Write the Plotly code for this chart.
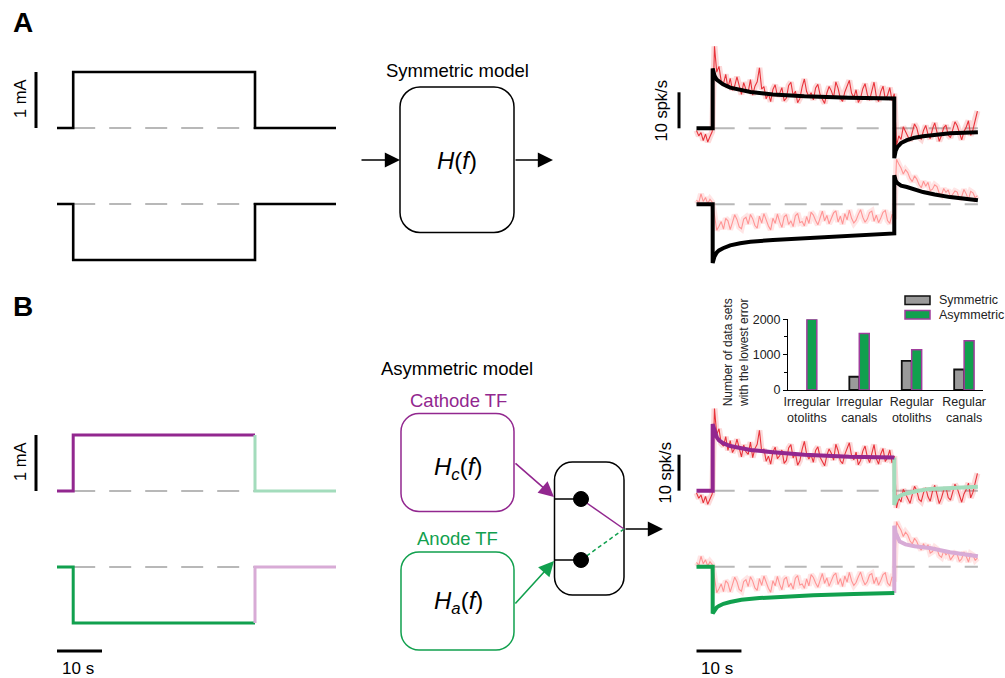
import numpy as np
import plotly.graph_objects as go

W, H = 1005, 678
FONT = "Liberation Sans, Arial, Helvetica, sans-serif"

# ------------------------------------------------------------------ data
# stimulus (time in s, current in mA)
STIM_T = [0, 3.6, 3.6, 44.0, 44.0, 62.0]
STIM_CATH = [0, 0, 1, 1, 0, 0]
STIM_ANOD = [0, 0, -1, -1, 0, 0]

# recorded firing rate (spk/s, relative to baseline), sampled every 0.5 s
DT = 0.5
RATE_CATH = [
    -0.6, -2.1, -1.2, -3.4, -1.6, -3.8, -2.3, -0.9,
    22.8, 15.6, 17.2, 13.1, 12.4, 15.0, 11.2, 13.9, 10.6, 11.8,
    14.3, 12.0, 9.4, 12.7, 10.8, 10.1, 13.5, 9.2, 11.7, 12.9,
    16.8, 10.9, 11.6, 8.2, 9.6, 7.4, 10.8, 12.1, 8.9, 9.7,
    11.3, 7.6, 8.4, 11.9, 12.8, 9.1, 10.3, 7.1, 8.3, 11.5,
    13.7, 10.2, 8.8, 9.9, 7.9, 11.2, 12.2, 9.3, 8.0, 6.9,
    9.8, 11.6, 10.4, 8.5, 12.9, 11.1, 8.3, 7.5, 10.1, 11.6,
    13.3, 9.7, 8.6, 10.7, 7.2, 8.4, 11.0, 12.4, 9.4, 7.8,
    10.5, 12.8, 8.9, 7.4, 10.2, 11.7, 8.1, 9.2, 11.3, 7.7,
    9.6,
    -4.8, -2.1, -3.1, 0.4, -0.8, -2.2, -3.5, -1.1, 1.2, 0.1,
    -2.4, -3.0, -0.6, 0.8, -1.7, -2.9, -0.2, 1.5, -1.3, -3.6,
    -2.0, 0.2, 0.9, -1.9, -2.6, -0.5, 1.8, 0.7, -1.4, -3.2,
    -0.9, 0.3, 2.1, -2.0, -0.4, 2.6, 4.8,
]
RATE_ANOD = [
    1.2, 0.4, 2.9, 0.8, 1.9, 0.2, 1.4, 0.6,
    -3.0, -7.2, -6.1, -4.8, -6.9, -3.9, -4.6, -7.0, -5.0, -2.9,
    -4.2, -6.3, -6.8, -4.1, -3.6, -5.5, -2.8, -4.0, -5.9, -6.6,
    -3.3, -5.2, -2.6, -4.4, -6.0, -7.1, -3.9, -5.3, -2.7, -4.9,
    -6.4, -3.5, -2.9, -5.6, -4.6, -6.2, -3.2, -2.5, -5.1, -4.8,
    -6.0, -3.4, -5.3, -2.2, -3.0, -4.5, -5.7, -3.8, -1.9, -4.6,
    -3.1, -5.4, -4.0, -2.4, -1.8, -4.9, -3.3, -5.5, -2.6, -4.3,
    -1.6, -3.9, -5.2, -4.4, -2.8, -1.5, -3.6, -5.0, -4.1, -2.3,
    -1.9, -4.7, -3.0, -5.1, -3.8, -2.2, -1.7, -4.5, -5.3, -2.9,
    -3.1,
    12.5, 11.2, 10.1, 8.4, 9.6, 8.8, 7.2, 6.3, 7.9, 7.0,
    5.5, 4.6, 6.4, 5.0, 6.1, 3.8, 4.2, 5.4, 4.9, 3.1,
    2.6, 4.4, 3.3, 4.0, 1.9, 2.8, 3.7, 3.4, 1.5, 2.2,
    4.1, 2.9, 1.3, 3.6, 3.2, 1.8, 2.4,
]

# symmetric model prediction (spk/s)
SYM_T = [0, 3.6, 3.6, 4.0, 4.5, 5.0, 5.9, 7.5, 9.7, 12, 17, 24, 34, 44,
         44, 44.3, 44.7, 45.5, 46.8, 48.5, 50.4, 53, 56.4, 62.6]
SYM_CATH = [0, 0, 16.6, 14.6, 13.5, 12.9, 12.2, 11.3, 10.6, 10.1, 9.4, 8.9, 8.5, 8.3,
            -8.3, -6.3, -5.2, -4.1, -3.3, -2.6, -2.2, -1.8, -1.4, -1.1]
SYM_ANOD = [0, 0, -16.3, -14.5, -13.4, -12.8, -12.2, -11.4, -10.8, -10.4, -9.9, -9.4, -8.8, -8.1,
            8.1, 6.6, 5.9, 5.2, 4.8, 4.0, 3.4, 2.7, 2.0, 1.1]

# asymmetric model prediction (spk/s)
ASYM_CATH_ON_T = [0, 3.6, 3.6, 4.0, 4.5, 5.0, 5.9, 7.5, 9.7, 12, 17, 24, 34, 44]
ASYM_CATH_ON = [0, 0, 18.5, 16.4, 14.9, 14.0, 13.2, 12.4, 11.8, 11.3, 10.7, 10.0, 9.4, 9.2]
ASYM_CATH_OFF_T = [44, 44, 44.3, 44.8, 45.8, 46.8, 49, 51.9, 56, 62.6]
ASYM_CATH_OFF = [9.2, -4.0, -2.6, -1.7, -1.1, -0.7, -0.1, 0.5, 0.8, 1.1]
ASYM_ANOD_ON_T = [0, 3.6, 3.6, 4.0, 4.5, 5.0, 6.0, 7.5, 10, 14, 19, 26, 35, 44]
ASYM_ANOD_ON = [0, 0, -13.0, -12.0, -11.3, -10.9, -10.3, -9.8, -9.2, -8.7, -8.3, -7.9, -7.6, -7.3]
ASYM_ANOD_OFF_T = [44, 44, 44.3, 44.7, 45.2, 46.5, 48.5, 51.9, 56.4, 62.6]
ASYM_ANOD_OFF = [-7.3, 11.4, 9.5, 8.3, 7.0, 6.2, 5.7, 5.2, 4.0, 2.9]

# inset bar chart
CATEGORIES = ["Irregular<br>otoliths", "Irregular<br>canals", "Regular<br>otoliths", "Regular<br>canals"]
N_SYMMETRIC = [0, 375, 825, 580]
N_ASYMMETRIC = [2000, 1600, 1140, 1390]
BAR_TICKS = [0, 1000, 2000]

# ------------------------------------------------------------------ style
PURPLE = "#92278f"
GREEN = "#11a04e"
LGREEN = "#a3dcbc"
LPURPLE = "#d8abd6"
GREY_DASH = "#b8b8b8"
RED = "#e8333b"
RED_HALO = "rgba(240,80,80,0.22)"
PINK = "#ff9494"
PINK_HALO = "rgba(255,150,150,0.25)"

# geometry (pixels)
STIM_X0, STIM_PPS = 57.0, 4.5          # t=0 pixel, px per second
RESP_X0, RESP_PPS = 696.5, 4.495
PX_PER_MA = 56.0
PX_PER_SPK = 3.6
STIM_GAP = -(204 - 128) / PX_PER_MA    # offset of lower stimulus trace (mA)
RESP_GAP = -(204.3 - 128.3) / PX_PER_SPK


def xdom(p0, p1):
    return [p0 / W, p1 / W]


def ydom(ptop, pbot):
    return [1 - pbot / H, 1 - ptop / H]


def X(p):
    return p / W


def Y(p):
    return 1 - p / H


fig = go.Figure()
layout_axes = {}


def make_axes(idx, xp0, xp1, x0, pps, ytop, ybot, base, ppu):
    xr = [(xp0 - x0) / pps, (xp1 - x0) / pps]
    yr = [(base - ybot) / ppu, (base - ytop) / ppu]
    sx = "" if idx == 1 else str(idx)
    layout_axes["xaxis" + sx] = dict(domain=xdom(xp0, xp1), range=xr, visible=False,
                                     anchor="y" + sx, fixedrange=True, automargin=False)
    layout_axes["yaxis" + sx] = dict(domain=ydom(ytop, ybot), range=yr, visible=False,
                                     anchor="x" + sx, fixedrange=True, automargin=False)
    return "x" + sx, "y" + sx


def line(xa, ya, x, y, color, width, dash=None):
    fig.add_trace(go.Scatter(x=x, y=y, xaxis=xa, yaxis=ya, mode="lines",
                             line=dict(color=color, width=width, dash=dash),
                             hoverinfo="skip", showlegend=False))


# axes: stimulus A, response A, stimulus B, response B
sA = make_axes(1, 15, 345, STIM_X0, STIM_PPS, 40, 285, 128, PX_PER_MA)
rA = make_axes(2, 650, 1005, RESP_X0, RESP_PPS, 25, 285, 128.3, PX_PER_SPK)
sB = make_axes(3, 15, 345, STIM_X0, STIM_PPS, 400, 670, 491, PX_PER_MA)
rB = make_axes(4, 650, 1005, RESP_X0, RESP_PPS, 392, 670, 490.7, PX_PER_SPK)

stim_t = np.array(STIM_T)
stim_c = np.array(STIM_CATH)
stim_a = np.array(STIM_ANOD) + STIM_GAP
rate_t = np.arange(len(RATE_CATH)) * DT
rate_c = np.array(RATE_CATH)
rate_a = np.array(RATE_ANOD) + RESP_GAP

DASH = "22px,14px"

# ---------------- stimulus traces
for ax in (sA, sB):
    line(*ax, [STIM_T[1], STIM_T[3]], [0, 0], GREY_DASH, 2, DASH)
    line(*ax, [STIM_T[1], STIM_T[3]], [STIM_GAP, STIM_GAP], GREY_DASH, 2, DASH)
    # 1 mA scale bar
    line(*ax, [(36 - STIM_X0) / STIM_PPS] * 2, [0, 1], "black", 3)

line(*sA, stim_t, stim_c, "black", 2.6)
line(*sA, stim_t, stim_a, "black", 2.6)

line(*sB, stim_t[:4], stim_c[:4], PURPLE, 3)
line(*sB, stim_t[3:], stim_c[3:], LGREEN, 3)
line(*sB, stim_t[:4], stim_a[:4], GREEN, 3)
line(*sB, stim_t[3:], stim_a[3:], LPURPLE, 3)
# 10 s scale bar
line(*sB, [0, 10], [(491 - 651) / PX_PER_MA] * 2, "black", 3)

# ---------------- response traces
for ax in (rA, rB):
    line(*ax, [3.6, 62.6], [0, 0], GREY_DASH, 2, DASH)
    line(*ax, [3.6, 62.6], [RESP_GAP, RESP_GAP], GREY_DASH, 2, DASH)
    line(*ax, rate_t, rate_a, PINK_HALO, 6)
    line(*ax, rate_t, rate_a, PINK, 1.1)
    line(*ax, rate_t, rate_c, RED_HALO, 6)
    line(*ax, rate_t, rate_c, RED, 1.1)
    # 10 spk/s scale bar
    line(*ax, [(679 - RESP_X0) / RESP_PPS] * 2, [0, 10], "black", 3)

line(*rA, SYM_T, SYM_CATH, "black", 4)
line(*rA, SYM_T, np.array(SYM_ANOD) + RESP_GAP, "black", 4)

line(*rB, ASYM_CATH_OFF_T, ASYM_CATH_OFF, LGREEN, 4)
line(*rB, ASYM_ANOD_OFF_T, np.array(ASYM_ANOD_OFF) + RESP_GAP, LPURPLE, 4)
line(*rB, ASYM_CATH_ON_T, ASYM_CATH_ON, PURPLE, 4)
line(*rB, ASYM_ANOD_ON_T, np.array(ASYM_ANOD_ON) + RESP_GAP, GREEN, 4)
line(*rB, [0, 10], [(490.7 - 651) / PX_PER_SPK] * 2, "black", 3)

# ---------------- inset bar chart
fig.add_trace(go.Bar(x=CATEGORIES, y=N_SYMMETRIC, xaxis="x5", yaxis="y5",
                     marker=dict(color="#9a9a9a",
                                 line=dict(color="#111111",
                                           width=[1.8 if v > 0 else 0 for v in N_SYMMETRIC])),
                     showlegend=False, hoverinfo="skip"))
fig.add_trace(go.Bar(x=CATEGORIES, y=N_ASYMMETRIC, xaxis="x5", yaxis="y5",
                     marker=dict(color=GREEN, line=dict(color="#a03c9c", width=1.5)),
                     showlegend=False, hoverinfo="skip"))
layout_axes["xaxis5"] = dict(domain=xdom(788, 983), range=[-0.36, 3.36], anchor="y5",
                             showline=True, linecolor="black", linewidth=1, ticks="",
                             showgrid=False, tickfont=dict(size=12.5, color="#222", family=FONT),
                             fixedrange=True, automargin=False)
layout_axes["yaxis5"] = dict(domain=ydom(319.3, 390), range=[0, 2000], anchor="x5",
                             showline=True, linecolor="black", linewidth=1, ticks="outside",
                             ticklen=4, tickcolor="black", tickvals=BAR_TICKS,
                             minor=dict(tickvals=[500, 1500], ticks="outside", ticklen=3,
                                        tickcolor="black"),
                             showgrid=False, zeroline=False,
                             tickfont=dict(size=12.5, color="#222", family=FONT),
                             fixedrange=True, automargin=False)

# ------------------------------------------------------------------ schematic
shapes = []
annotations = []


def rrect(x0, y0, x1, y1, r, color, width=1.5):
    k = 0.552 * r
    segs = [
        ("M", [(x0 + r, y0)]),
        ("L", [(x1 - r, y0)]),
        ("C", [(x1 - r + k, y0), (x1, y0 + r - k), (x1, y0 + r)]),
        ("L", [(x1, y1 - r)]),
        ("C", [(x1, y1 - r + k), (x1 - r + k, y1), (x1 - r, y1)]),
        ("L", [(x0 + r, y1)]),
        ("C", [(x0 + r - k, y1), (x0, y1 - r + k), (x0, y1 - r)]),
        ("L", [(x0, y0 + r)]),
        ("C", [(x0, y0 + r - k), (x0 + r - k, y0), (x0 + r, y0)]),
    ]
    path = ""
    for cmd, pts in segs:
        path += cmd + " " + " ".join(f"{X(px):.5f},{Y(py):.5f}" for px, py in pts) + " "
    path += "Z"
    shapes.append(dict(type="path", path=path, xref="paper", yref="paper",
                       line=dict(color=color, width=width), fillcolor="rgba(0,0,0,0)"))


def seg(x0, y0, x1, y1, color, width=1.5, dash=None):
    shapes.append(dict(type="line", xref="paper", yref="paper",
                       x0=X(x0), y0=Y(y0), x1=X(x1), y1=Y(y1),
                       line=dict(color=color, width=width, dash=dash)))


def dot(cx, cy, r):
    shapes.append(dict(type="circle", xref="paper", yref="paper",
                       x0=X(cx - r), x1=X(cx + r), y0=Y(cy + r), y1=Y(cy - r),
                       fillcolor="black", line=dict(color="black", width=1)))


def arrow(x0, y0, x1, y1, color, width=1.6, size=1.9):
    annotations.append(dict(x=X(x1), y=Y(y1), xref="paper", yref="paper",
                            ax=x0 - x1, ay=y0 - y1, axref="pixel", ayref="pixel",
                            text="", showarrow=True, arrowhead=2, arrowsize=size,
                            arrowwidth=width, arrowcolor=color, standoff=0, startstandoff=0))


def text(x, y, s, size, color="black", angle=0):
    annotations.append(dict(x=X(x), y=Y(y), xref="paper", yref="paper", text=s,
                            showarrow=False, textangle=angle, xanchor="center",
                            yanchor="middle",
                            font=dict(family=FONT, size=size, color=color)))


# panel A schematic
rrect(400, 87, 514, 232.5, 20, "black", 1.5)
arrow(360, 160, 400, 160, "black")
arrow(514, 160, 553, 160, "black")
text(457, 70.5, "Symmetric model", 18.5)
text(457, 160, "<i>H</i>(<i>f</i>)", 24)

# panel B schematic
rrect(401, 413.5, 514, 511.5, 18, PURPLE, 1.5)
rrect(401, 552, 514, 650, 18, GREEN, 1.5)
rrect(554.5, 462, 624, 595, 18, "black", 1.5)
text(457, 369, "Asymmetric model", 18.5)
text(458, 400, "Cathode TF", 18.5, PURPLE)
text(457, 538, "Anode TF", 18.5, GREEN)
text(458, 468, "<i>H</i><sub><i>c</i></sub>(<i>f</i>)", 24)
text(458, 602, "<i>H</i><sub><i>a</i></sub>(<i>f</i>)", 24)
arrow(514, 462, 554, 497, PURPLE)
arrow(514, 605, 554, 561, GREEN)
seg(554.5, 499, 581, 499, "black", 1.5)
seg(554.5, 560, 581, 560, "black", 1.5)
seg(581, 499, 624, 529, PURPLE, 1.5)
seg(581, 560, 624, 529, GREEN, 1.5, "4px,3px")
dot(581, 499, 7.5)
dot(581, 560, 7.5)
arrow(624, 529, 663, 529, "black")

# labels and scale-bar texts
text(23, 23, "<b>A</b>", 28)
text(23, 306, "<b>B</b>", 28)
text(20, 99, "1 mA", 16.5, angle=-90)
text(20, 462, "1 mA", 16.5, angle=-90)
text(660.5, 111, "10 spk/s", 16.5, angle=-90)
text(664.5, 473, "10 spk/s", 16.5, angle=-90)
text(78, 668, "10 s", 17)
text(717, 668, "10 s", 17)

# inset: y title and legend
text(736, 353, "Number of data sets<br>with the lowest error", 12, "#222", angle=-90)
shapes.append(dict(type="rect", xref="paper", yref="paper", x0=X(905), x1=X(930),
                   y0=Y(304.5), y1=Y(296), fillcolor="#9a9a9a",
                   line=dict(color="#111111", width=1.5)))
shapes.append(dict(type="rect", xref="paper", yref="paper", x0=X(905), x1=X(930),
                   y0=Y(319), y1=Y(310.5), fillcolor=GREEN,
                   line=dict(color="#a03c9c", width=1.5)))
for ty, s in ((300, "Symmetric"), (315, "Asymmetric")):
    annotations.append(dict(x=X(937), y=Y(ty), xref="paper", yref="paper", text=s,
                            showarrow=False, xanchor="left", yanchor="middle",
                            font=dict(family=FONT, size=12.5, color="#222")))

fig.update_layout(
    width=W, height=H, autosize=False,
    margin=dict(l=0, r=0, t=0, b=0, pad=0, autoexpand=False),
    paper_bgcolor="white", plot_bgcolor="rgba(0,0,0,0)",
    showlegend=False, barmode="group", bargap=0.62, bargroupgap=0,
    font=dict(family=FONT, color="black"),
    shapes=shapes, annotations=annotations,
    **layout_axes,
)

fig.write_html(
    "out.html",
    config={"displayModeBar": False},
    post_script="document.body.style.margin='0';document.body.style.overflow='hidden';",
)
